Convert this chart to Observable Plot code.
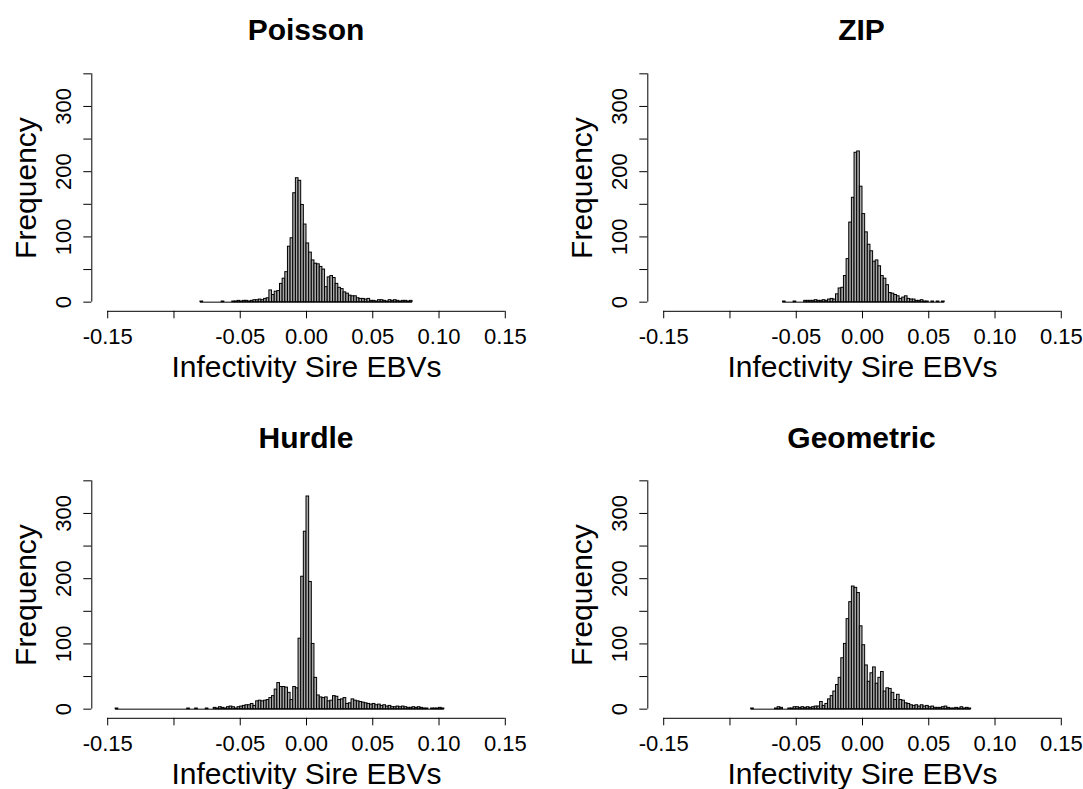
<!DOCTYPE html>
<html><head><meta charset="utf-8">
<script src="https://cdn.jsdelivr.net/npm/d3@7"></script>
<script src="https://cdn.jsdelivr.net/npm/@observablehq/plot@0.6"></script>
<style>
html,body{margin:0;padding:0;background:#fff;overflow:hidden;}
#fig{position:relative;width:1083px;height:789px;overflow:hidden;font-family:"Liberation Sans",Arial,sans-serif;background:#fff;}
.panel{position:absolute;width:527px;height:394px;}
.title{position:absolute;top:15.3px;left:91.3px;width:429.4px;text-align:center;font-weight:bold;font-size:30px;line-height:30px;color:#000;}
.panel svg{position:absolute;left:0;top:50px;}
</style></head><body><div id="fig"></div>
<script>
const titles = ["Poisson", "ZIP", "Hurdle", "Geometric"];
const binWidth = 0.002;

const poissonStart = -0.08;
const poissonCounts = [1,0,0,0,0,0,0,0,1,0,
  0,0,1,1,2,1,2,2,1,2,
  3,3,4,3,5,6,18,11,16,17,
  28,36,46,85,98,167,190,186,149,119,
  90,76,64,59,58,54,50,23,38,40,
  37,28,22,20,15,13,10,9,9,6,
  5,5,4,5,2,2,1,3,3,2,
  1,3,2,3,2,1,2,2,1,2];

const zipStart = -0.06;
const zipCounts = [1,0,0,0,1,0,0,0,2,2,
  2,2,3,2,2,3,2,4,5,4,
  12,21,22,40,66,122,160,229,231,177,
  135,107,88,78,62,64,55,40,36,26,
  14,13,11,9,5,7,9,5,4,4,
  2,2,3,1,1,0,1,0,1,0,
  1];

const hurdleStart = -0.144;
const hurdleCounts = [1,0,0,0,0,0,0,0,0,0,
  0,0,0,0,0,0,0,0,0,0,
  0,0,0,0,0,0,0,1,0,0,
  1,0,0,0,1,0,0,2,1,3,
  2,1,3,4,3,1,3,4,5,6,
  6,8,5,12,13,12,13,14,17,20,
  30,40,34,34,33,25,14,34,32,108,
  203,272,326,195,100,48,21,18,17,18,
  12,13,20,19,14,15,17,8,9,15,
  13,12,11,10,9,8,7,8,6,7,
  5,6,4,5,3,3,4,3,4,3,
  2,2,3,2,3,2,1,1,0,1,
  1,1,2,1];

const geometricStart = -0.084;
const geometricCounts = [1,0,0,0,0,0,0,0,0,1,
  3,2,0,0,1,1,3,3,2,3,
  2,3,2,3,4,4,11,5,8,15,
  20,27,37,48,78,100,138,164,188,186,
  178,127,98,67,42,55,64,39,48,57,
  27,32,31,25,14,22,14,13,9,8,
  6,5,6,4,6,4,5,3,4,2,
  2,2,3,4,2,1,1,2,1,3,
  1,2,1];

const xTicks = [-0.15, -0.10, -0.05, 0.00, 0.05, 0.10, 0.15];
const xTickLabels = ["-0.15", "", "-0.05", "0.00", "0.05", "0.10", "0.15"];
const yTicks = [0, 50, 100, 150, 200, 250, 300, 350];
const yLabels = [0, 100, 200, 300];
const xLabel = "Infectivity Sire EBVs";
const yLabel = "Frequency";

const panels = [
  {title: titles[0], counts: poissonCounts, start: poissonStart, left: 0, top: 0},
  {title: titles[1], counts: zipCounts, start: zipStart, left: 555.5, top: 0},
  {title: titles[2], counts: hurdleCounts, start: hurdleStart, left: 0, top: 407.3},
  {title: titles[3], counts: geometricCounts, start: geometricStart, left: 555.5, top: 407.3}
];

const fig = document.getElementById("fig");
const labelOf = new Map(xTicks.map((t, i) => [t, xTickLabels[i]]));
const xSpan = xTicks[xTicks.length - 1] - xTicks[0];
const ySpan = yTicks[yTicks.length - 1] - yTicks[0];
const xDomain = [xTicks[0] - 0.04 * xSpan, xTicks[xTicks.length - 1] + 0.04 * xSpan];
const yDomain = [yTicks[0] - 0.04 * ySpan, yTicks[yTicks.length - 1] + 0.04 * ySpan];

for (const p of panels) {
  const bins = p.counts.map((count, i) => ({x0: p.start + i * binWidth, x1: p.start + (i + 1) * binWidth, count}));
  const div = document.createElement("div");
  div.className = "panel";
  div.style.left = p.left + "px";
  div.style.top = p.top + "px";
  const t = document.createElement("div");
  t.className = "title";
  t.textContent = p.title;
  div.appendChild(t);
  const chart = Plot.plot({
    width: 527, height: 344,
    marginLeft: 91.3, marginRight: 6.3, marginTop: 14.2, marginBottom: 83.2,
    style: {fontFamily: '"Liberation Sans", Arial, sans-serif', fontSize: "22px", color: "black", background: "white", overflow: "visible"},
    x: {domain: xDomain},
    y: {domain: yDomain},
    marks: [
      Plot.ruleY([0], {x1: bins[0].x0, x2: bins[bins.length - 1].x1, stroke: "black", strokeWidth: 1}),
      Plot.rectY(bins, {x1: "x0", x2: "x1", y: "count", fill: "#a8a8a8", stroke: "black", strokeWidth: 1}),
      Plot.ruleY([yDomain[0]], {x1: xTicks[0], x2: xTicks[xTicks.length - 1], stroke: "black", strokeWidth: 1}),
      Plot.ruleX([xDomain[0]], {y1: yTicks[0], y2: yTicks[yTicks.length - 1], stroke: "black", strokeWidth: 1}),
      Plot.axisX({ticks: xTicks, tickSize: 7.5, tickPadding: 10, tickFormat: d => labelOf.get(d), fontSize: 22, label: null}),
      Plot.axisY({ticks: yTicks, tickSize: 8, tickFormat: () => "", label: null}),
      Plot.text(yLabels, {y: d => d, frameAnchor: "left", rotate: -90, dx: -20.6, lineAnchor: "bottom", textAnchor: "middle", fontSize: 22}),
      Plot.text([xLabel], {frameAnchor: "bottom", dy: 65.7, lineAnchor: "bottom", textAnchor: "middle", fontSize: 30}),
      Plot.text([yLabel], {frameAnchor: "left", dx: -56.3, rotate: -90, lineAnchor: "bottom", textAnchor: "middle", fontSize: 30})
    ]
  });
  div.appendChild(chart);
  fig.appendChild(div);
}
</script>
</body></html>
